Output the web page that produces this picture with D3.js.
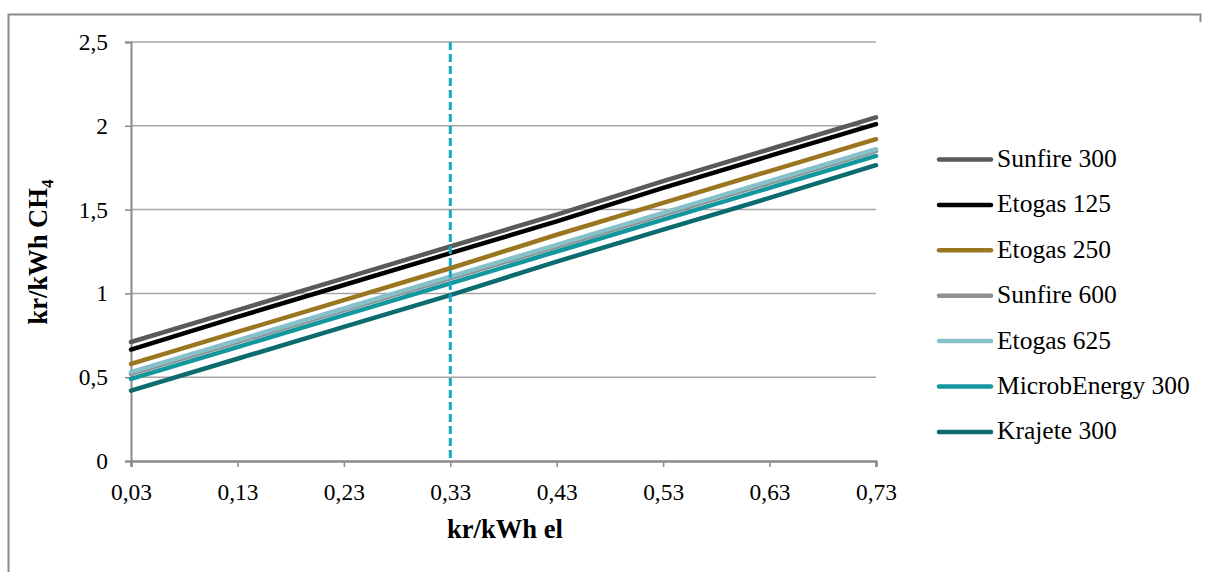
<!DOCTYPE html>
<html><head><meta charset="utf-8">
<script src="https://cdn.jsdelivr.net/npm/d3@7"></script>
<style>body{margin:0;background:#fff}svg{display:block}</style>
</head><body>
<script>
const categories = [0.03, 0.13, 0.23, 0.33, 0.43, 0.53, 0.63, 0.73];
const sunfire300 = [0.71, 0.90, 1.09, 1.28, 1.47, 1.67, 1.86, 2.05];
const etogas125 = [0.665, 0.86, 1.05, 1.24, 1.43, 1.63, 1.82, 2.01];
const etogas250 = [0.58, 0.77, 0.96, 1.15, 1.35, 1.54, 1.73, 1.92];
const sunfire600 = [0.52, 0.71, 0.90, 1.09, 1.28, 1.47, 1.66, 1.85];
const etogas625 = [0.53, 0.72, 0.91, 1.10, 1.29, 1.48, 1.67, 1.86];
const microbEnergy300 = [0.49, 0.68, 0.87, 1.06, 1.25, 1.44, 1.63, 1.82];
const krajete300 = [0.42, 0.61, 0.80, 0.99, 1.19, 1.38, 1.57, 1.765];
const seriesNames = ["Sunfire 300","Etogas 125","Etogas 250","Sunfire 600","Etogas 625","MicrobEnergy 300","Krajete 300"];
const seriesValues = [sunfire300, etogas125, etogas250, sunfire600, etogas625, microbEnergy300, krajete300];
const seriesColors = ["#5a5a5a","#000000","#9b7620","#8e8e8e","#86c0ca","#12979f","#0c6b6e"];
const yTicks = [0, 0.5, 1, 1.5, 2, 2.5];
const markerX = 0.33;

const FONT = "'Liberation Serif', 'DejaVu Serif', serif";
const W = 1207, H = 572;
const svg = d3.select("body").append("svg").attr("width", W).attr("height", H)
  .style("font-family", FONT);

// font size that makes a text reach a target width
function fitSize(str, target, weight) {
  const t = svg.append("text").style("font-family", FONT).style("font-size","20px")
    .attr("font-weight", weight || "normal").text(str);
  const w = t.node().getComputedTextLength();
  t.remove();
  return 20 * target / w;
}
const tickFs = fitSize("0,03", 41);
const legendFs = fitSize("MicrobEnergy 300", 193);
const titleFs = fitSize("kr/kWh el", 116, "bold");

// frame
svg.append("path").attr("d", `M8.5,${H+5} V14.5 H1200.5 V22`).attr("fill","none").attr("stroke","#8a8a8a").attr("stroke-width",2);

const x = d3.scaleLinear().domain([0.03, 0.73]).range([131, 876]);
const y = d3.scaleLinear().domain([0, 2.5]).range([461, 42]);
const fmt = v => String(v).replace(".", ",");

// gridlines
svg.append("g").selectAll("line").data(yTicks.filter(d=>d>0)).join("line")
  .attr("x1", x(0.03)).attr("x2", x(0.73)).attr("y1", d=>y(d)).attr("y2", d=>y(d))
  .attr("stroke","#a6a6a6").attr("stroke-width",1.5);

// y axis
const ya = svg.append("g").attr("transform",`translate(${x(0.03)},0)`)
  .call(d3.axisLeft(y).tickValues(yTicks).tickFormat(fmt).tickSize(6).tickPadding(17));
ya.attr("font-family", null).attr("font-size", null);
ya.select(".domain").attr("stroke","#8a8a8a").attr("stroke-width",2);
ya.selectAll(".tick line").attr("stroke","#8a8a8a").attr("stroke-width",1.5);
ya.selectAll("text").attr("fill","#000").style("font-family", FONT).style("font-size", tickFs+"px");

// x axis
const xa = svg.append("g").attr("transform",`translate(0,${y(0)})`)
  .call(d3.axisBottom(x).tickValues(categories).tickFormat(d=>d.toFixed(2).replace(".",",")).tickSize(6).tickPadding(16));
xa.attr("font-family", null).attr("font-size", null);
xa.select(".domain").attr("stroke","#8a8a8a").attr("stroke-width",2.5);
xa.selectAll(".tick line").attr("stroke","#8a8a8a").attr("stroke-width",1.5);
xa.selectAll("text").attr("fill","#000").style("font-family", FONT).style("font-size", tickFs+"px");

// lines
const line = d3.line().x((d,i)=>x(categories[i])).y(d=>y(d));
seriesValues.forEach((vals,i)=>{
  svg.append("path").datum(vals).attr("d", line).attr("fill","none")
    .attr("stroke", seriesColors[i]).attr("stroke-width",4.5).attr("stroke-linecap","round");
});

// dashed marker
svg.append("line").attr("x1", x(markerX)).attr("x2", x(markerX)).attr("y1", y(2.5)).attr("y2", y(0))
  .attr("stroke","#17a9c1").attr("stroke-width",3).attr("stroke-dasharray","8,4");

// axis titles
svg.append("text").attr("x", 505).attr("y", 538).attr("text-anchor","middle")
  .style("font-family", FONT).style("font-size", titleFs+"px").attr("font-weight","bold").text("kr/kWh el");
const yt = svg.append("text").attr("transform","translate(47,252) rotate(-90)").attr("text-anchor","middle")
  .style("font-family", FONT).style("font-size", titleFs+"px").attr("font-weight","bold");
yt.append("tspan").text("kr/kWh CH");
yt.append("tspan").style("font-size", (titleFs*0.65)+"px").attr("dy",6).text("4");

// legend
const lg = svg.append("g");
seriesNames.forEach((n,i)=>{
  const yy = 159.5 + i*45.4;
  lg.append("line").attr("x1",939).attr("x2",991).attr("y1",yy).attr("y2",yy)
    .attr("stroke",seriesColors[i]).attr("stroke-width",4.5).attr("stroke-linecap","round");
  lg.append("text").attr("x",997).attr("y",yy+7.5).style("font-family", FONT).style("font-size", legendFs+"px").text(n);
});
</script>
</body></html>
